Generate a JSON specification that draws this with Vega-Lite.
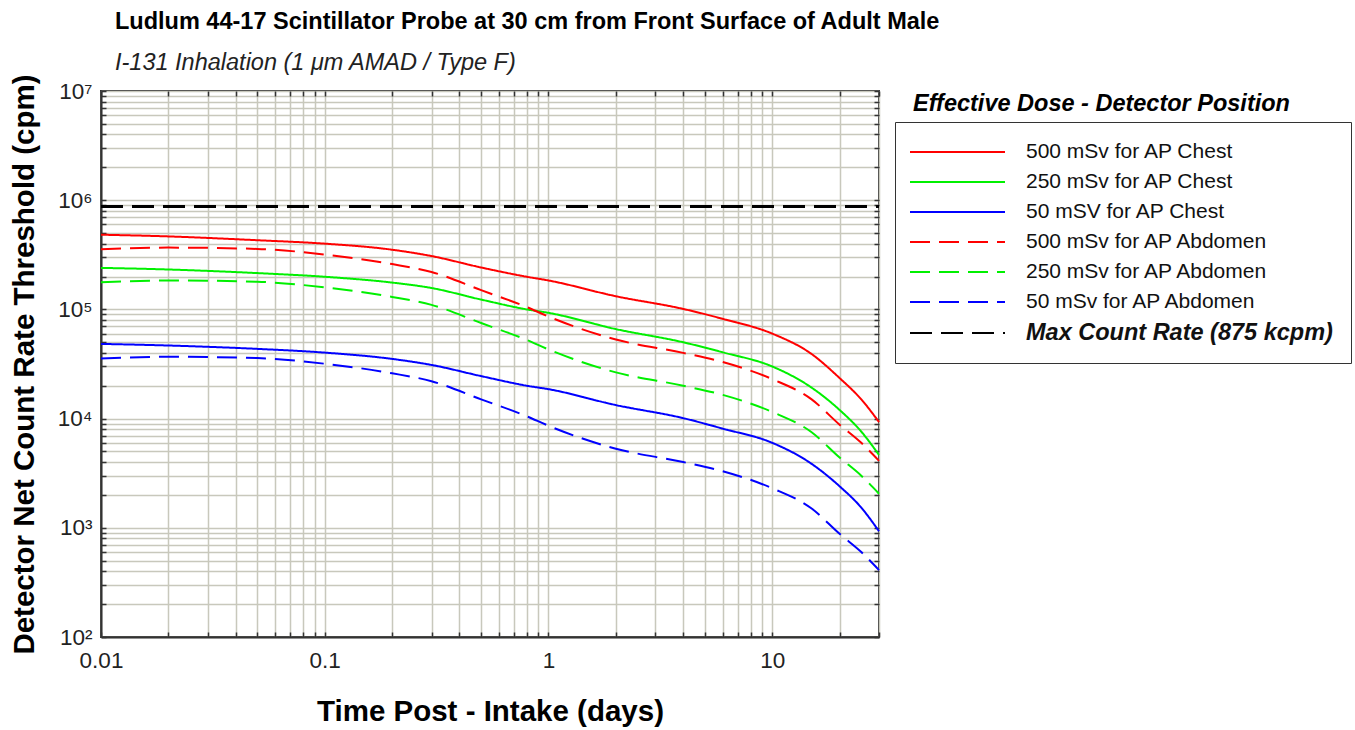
{
  "$schema": "https://vega.github.io/schema/vega-lite/v6.json",
  "width": 778,
  "height": 546,
  "autosize": {"type": "none"},
  "padding": {"left": 101, "top": 91, "right": 476, "bottom": 93},
  "background": "white",
  "view": {"stroke": "#333333", "strokeWidth": 2},
  "title": {
    "text": "Ludlum 44-17 Scintillator Probe at 30 cm from Front Surface of Adult Male",
    "subtitle": "I-131 Inhalation (1 μm AMAD / Type F)",
    "anchor": "start",
    "frame": "group",
    "dx": 14,
    "offset": -1,
    "font": "Liberation Sans",
    "fontSize": 23.5,
    "fontWeight": "bold",
    "color": "black",
    "subtitleFont": "Liberation Sans",
    "subtitleFontSize": 23.5,
    "subtitleFontStyle": "italic",
    "subtitleColor": "#222222",
    "subtitlePadding": 18
  },
  "datasets": {
    "curves": [
      {"t": 0.01, "v": 483000, "s": "500 mSv for AP Chest"},
      {"t": 0.02, "v": 466000, "s": "500 mSv for AP Chest"},
      {"t": 0.05, "v": 430000, "s": "500 mSv for AP Chest"},
      {"t": 0.1, "v": 400000, "s": "500 mSv for AP Chest"},
      {"t": 0.2, "v": 352000, "s": "500 mSv for AP Chest"},
      {"t": 0.3, "v": 308000, "s": "500 mSv for AP Chest"},
      {"t": 0.5, "v": 242000, "s": "500 mSv for AP Chest"},
      {"t": 0.8, "v": 199000, "s": "500 mSv for AP Chest"},
      {"t": 1, "v": 184000, "s": "500 mSv for AP Chest"},
      {"t": 2, "v": 132000, "s": "500 mSv for AP Chest"},
      {"t": 4, "v": 101000, "s": "500 mSv for AP Chest"},
      {"t": 6, "v": 82000, "s": "500 mSv for AP Chest"},
      {"t": 10, "v": 60000, "s": "500 mSv for AP Chest"},
      {"t": 15, "v": 39000, "s": "500 mSv for AP Chest"},
      {"t": 20, "v": 23500, "s": "500 mSv for AP Chest"},
      {"t": 25, "v": 15000, "s": "500 mSv for AP Chest"},
      {"t": 30, "v": 9300, "s": "500 mSv for AP Chest"},

      {"t": 0.01, "v": 240000, "s": "250 mSv for AP Chest"},
      {"t": 0.02, "v": 232000, "s": "250 mSv for AP Chest"},
      {"t": 0.05, "v": 215000, "s": "250 mSv for AP Chest"},
      {"t": 0.1, "v": 199000, "s": "250 mSv for AP Chest"},
      {"t": 0.2, "v": 176000, "s": "250 mSv for AP Chest"},
      {"t": 0.3, "v": 157000, "s": "250 mSv for AP Chest"},
      {"t": 0.5, "v": 123000, "s": "250 mSv for AP Chest"},
      {"t": 0.8, "v": 100000, "s": "250 mSv for AP Chest"},
      {"t": 1, "v": 93000, "s": "250 mSv for AP Chest"},
      {"t": 2, "v": 66000, "s": "250 mSv for AP Chest"},
      {"t": 4, "v": 50000, "s": "250 mSv for AP Chest"},
      {"t": 6, "v": 40500, "s": "250 mSv for AP Chest"},
      {"t": 10, "v": 30000, "s": "250 mSv for AP Chest"},
      {"t": 15, "v": 19200, "s": "250 mSv for AP Chest"},
      {"t": 20, "v": 12000, "s": "250 mSv for AP Chest"},
      {"t": 25, "v": 7600, "s": "250 mSv for AP Chest"},
      {"t": 30, "v": 4650, "s": "250 mSv for AP Chest"},

      {"t": 0.01, "v": 48300, "s": "50 mSV for AP Chest"},
      {"t": 0.02, "v": 46700, "s": "50 mSV for AP Chest"},
      {"t": 0.05, "v": 43500, "s": "50 mSV for AP Chest"},
      {"t": 0.1, "v": 40200, "s": "50 mSV for AP Chest"},
      {"t": 0.2, "v": 35200, "s": "50 mSV for AP Chest"},
      {"t": 0.3, "v": 31000, "s": "50 mSV for AP Chest"},
      {"t": 0.5, "v": 24500, "s": "50 mSV for AP Chest"},
      {"t": 0.8, "v": 20000, "s": "50 mSV for AP Chest"},
      {"t": 1, "v": 18600, "s": "50 mSV for AP Chest"},
      {"t": 2, "v": 13300, "s": "50 mSV for AP Chest"},
      {"t": 4, "v": 10100, "s": "50 mSV for AP Chest"},
      {"t": 6, "v": 8100, "s": "50 mSV for AP Chest"},
      {"t": 10, "v": 6000, "s": "50 mSV for AP Chest"},
      {"t": 15, "v": 3850, "s": "50 mSV for AP Chest"},
      {"t": 20, "v": 2400, "s": "50 mSV for AP Chest"},
      {"t": 25, "v": 1530, "s": "50 mSV for AP Chest"},
      {"t": 30, "v": 930, "s": "50 mSV for AP Chest"},

      {"t": 0.01, "v": 355000, "s": "500 mSv for AP Abdomen"},
      {"t": 0.02, "v": 368000, "s": "500 mSv for AP Abdomen"},
      {"t": 0.05, "v": 358000, "s": "500 mSv for AP Abdomen"},
      {"t": 0.1, "v": 318000, "s": "500 mSv for AP Abdomen"},
      {"t": 0.2, "v": 260000, "s": "500 mSv for AP Abdomen"},
      {"t": 0.3, "v": 220000, "s": "500 mSv for AP Abdomen"},
      {"t": 0.5, "v": 150000, "s": "500 mSv for AP Abdomen"},
      {"t": 0.8, "v": 105000, "s": "500 mSv for AP Abdomen"},
      {"t": 1, "v": 86000, "s": "500 mSv for AP Abdomen"},
      {"t": 2, "v": 53000, "s": "500 mSv for AP Abdomen"},
      {"t": 4, "v": 40000, "s": "500 mSv for AP Abdomen"},
      {"t": 6, "v": 33000, "s": "500 mSv for AP Abdomen"},
      {"t": 10, "v": 23000, "s": "500 mSv for AP Abdomen"},
      {"t": 15, "v": 15000, "s": "500 mSv for AP Abdomen"},
      {"t": 20, "v": 8800, "s": "500 mSv for AP Abdomen"},
      {"t": 25, "v": 6000, "s": "500 mSv for AP Abdomen"},
      {"t": 30, "v": 4100, "s": "500 mSv for AP Abdomen"},

      {"t": 0.01, "v": 177000, "s": "250 mSv for AP Abdomen"},
      {"t": 0.02, "v": 184000, "s": "250 mSv for AP Abdomen"},
      {"t": 0.05, "v": 179000, "s": "250 mSv for AP Abdomen"},
      {"t": 0.1, "v": 159000, "s": "250 mSv for AP Abdomen"},
      {"t": 0.2, "v": 130000, "s": "250 mSv for AP Abdomen"},
      {"t": 0.3, "v": 110000, "s": "250 mSv for AP Abdomen"},
      {"t": 0.5, "v": 75000, "s": "250 mSv for AP Abdomen"},
      {"t": 0.8, "v": 52500, "s": "250 mSv for AP Abdomen"},
      {"t": 1, "v": 43000, "s": "250 mSv for AP Abdomen"},
      {"t": 2, "v": 26500, "s": "250 mSv for AP Abdomen"},
      {"t": 4, "v": 20000, "s": "250 mSv for AP Abdomen"},
      {"t": 6, "v": 16500, "s": "250 mSv for AP Abdomen"},
      {"t": 10, "v": 11500, "s": "250 mSv for AP Abdomen"},
      {"t": 15, "v": 7500, "s": "250 mSv for AP Abdomen"},
      {"t": 20, "v": 4400, "s": "250 mSv for AP Abdomen"},
      {"t": 25, "v": 3000, "s": "250 mSv for AP Abdomen"},
      {"t": 30, "v": 2050, "s": "250 mSv for AP Abdomen"},

      {"t": 0.01, "v": 35500, "s": "50 mSv for AP Abdomen"},
      {"t": 0.02, "v": 36800, "s": "50 mSv for AP Abdomen"},
      {"t": 0.05, "v": 35800, "s": "50 mSv for AP Abdomen"},
      {"t": 0.1, "v": 31800, "s": "50 mSv for AP Abdomen"},
      {"t": 0.2, "v": 26000, "s": "50 mSv for AP Abdomen"},
      {"t": 0.3, "v": 22000, "s": "50 mSv for AP Abdomen"},
      {"t": 0.5, "v": 15000, "s": "50 mSv for AP Abdomen"},
      {"t": 0.8, "v": 10500, "s": "50 mSv for AP Abdomen"},
      {"t": 1, "v": 8600, "s": "50 mSv for AP Abdomen"},
      {"t": 2, "v": 5300, "s": "50 mSv for AP Abdomen"},
      {"t": 4, "v": 4000, "s": "50 mSv for AP Abdomen"},
      {"t": 6, "v": 3300, "s": "50 mSv for AP Abdomen"},
      {"t": 10, "v": 2300, "s": "50 mSv for AP Abdomen"},
      {"t": 15, "v": 1500, "s": "50 mSv for AP Abdomen"},
      {"t": 20, "v": 880, "s": "50 mSv for AP Abdomen"},
      {"t": 25, "v": 600, "s": "50 mSv for AP Abdomen"},
      {"t": 30, "v": 410, "s": "50 mSv for AP Abdomen"}
    ],
    "maxrate": [
      {"t": 0.01, "v": 875000, "s": "Max Count Rate (875 kcpm)"},
      {"t": 30, "v": 875000, "s": "Max Count Rate (875 kcpm)"}
    ]
  },
  "encoding": {
    "color": {
      "field": "s",
      "type": "nominal",
      "scale": {
        "domain": ["500 mSv for AP Chest", "250 mSv for AP Chest", "50 mSV for AP Chest", "500 mSv for AP Abdomen", "250 mSv for AP Abdomen", "50 mSv for AP Abdomen", "Max Count Rate (875 kcpm)"],
        "range": ["#ff0000", "#00f000", "#0000ff", "#ff0000", "#00f000", "#0000ff", "#000000"]
      },
      "legend": {
        "orient": "none",
        "legendX": 794,
        "legendY": 31,
        "title": "Effective Dose - Detector Position",
        "titleFont": "Liberation Sans",
        "titleFontSize": 23.5,
        "titleFontWeight": "bold",
        "titleFontStyle": "italic",
        "titleColor": "black",
        "titlePadding": -22,
        "titleLimit": 500,
        "labelFont": "Liberation Sans",
        "labelFontSize": 21,
        "labelColor": "#111111",
        "labelLimit": 400,
        "labelOffset": 58,
        "symbolType": "M-5,0H5",
        "symbolSize": 361,
        "symbolOffset": 18,
        "symbolStrokeWidth": 2,
        "rowPadding": 8,
        "padding": 18,
        "strokeColor": "#333333",
        "encode": {
          "title": {"update": {"dy": {"value": -48}, "dx": {"value": -16}}},
          "labels": {"update": {
            "fontWeight": {"signal": "datum.value == 'Max Count Rate (875 kcpm)' ? 'bold' : 'normal'"},
            "fontStyle": {"signal": "datum.value == 'Max Count Rate (875 kcpm)' ? 'italic' : 'normal'"},
            "fontSize": {"signal": "datum.value == 'Max Count Rate (875 kcpm)' ? 23.5 : 21"}
          }}
        }
      }
    },
    "strokeDash": {
      "field": "s",
      "type": "nominal",
      "scale": {
        "domain": ["500 mSv for AP Chest", "250 mSv for AP Chest", "50 mSV for AP Chest", "500 mSv for AP Abdomen", "250 mSv for AP Abdomen", "50 mSv for AP Abdomen", "Max Count Rate (875 kcpm)"],
        "range": [[1, 0], [1, 0], [1, 0], [20, 9], [20, 9], [20, 9], [22, 9]]
      }
    }
  },
  "layer": [
    {
      "data": {"name": "curves"},
      "mark": {"type": "line", "interpolate": "monotone", "strokeWidth": 2},
      "encoding": {
        "x": {
          "field": "t",
          "type": "quantitative",
          "scale": {"type": "log", "domain": [0.01, 30], "nice": false},
          "axis": {
            "title": "Time Post - Intake (days)",
            "titleFont": "Liberation Sans",
            "titleFontSize": 29.5,
            "titleFontWeight": "bold",
            "titleColor": "black",
            "titlePadding": 26,
            "values": [0.01, 0.02, 0.03, 0.04, 0.05, 0.06, 0.07, 0.08, 0.09, 0.1, 0.2, 0.3, 0.4, 0.5, 0.6, 0.7, 0.8, 0.9, 1, 2, 3, 4, 5, 6, 7, 8, 9, 10, 20, 30],
            "labelExpr": "datum.value == 0.01 ? '0.01' : datum.value == 0.1 ? '0.1' : datum.value == 1 ? '1' : datum.value == 10 ? '10' : ''",
            "labelFont": "Liberation Sans",
            "labelFontSize": 22.5,
            "labelColor": "#222222",
            "labelPadding": 17,
            "labelFlush": false,
            "labelOverlap": false,
            "grid": true,
            "gridColor": "#c8c8bc",
            "gridWidth": 1.5,
            "ticks": true,
            "tickSize": -5,
            "tickWidth": 1.5,
            "tickColor": "#333333",
            "domainColor": "#333333",
            "domainWidth": 2
          }
        },
        "y": {
          "field": "v",
          "type": "quantitative",
          "scale": {"type": "log", "domain": [100, 10000000], "nice": false},
          "axis": {
            "title": "Detector Net Count Rate Threshold (cpm)",
            "titleFont": "Liberation Sans",
            "titleFontSize": 29.5,
            "titleFontWeight": "bold",
            "titleColor": "black",
            "titlePadding": 18,
            "values": [100, 200, 300, 400, 500, 600, 700, 800, 900, 1000, 2000, 3000, 4000, 5000, 6000, 7000, 8000, 9000, 10000, 20000, 30000, 40000, 50000, 60000, 70000, 80000, 90000, 100000, 200000, 300000, 400000, 500000, 600000, 700000, 800000, 900000, 1000000, 2000000, 3000000, 4000000, 5000000, 6000000, 7000000, 8000000, 9000000, 10000000],
            "labelExpr": "datum.value == 100 ? '10²' : datum.value == 1000 ? '10³' : datum.value == 10000 ? '10⁴' : datum.value == 100000 ? '10⁵' : datum.value == 1000000 ? '10⁶' : datum.value == 10000000 ? '10⁷' : ''",
            "labelFont": "Liberation Sans",
            "labelFontSize": 22.5,
            "labelColor": "#222222",
            "labelPadding": 14,
            "labelFlush": false,
            "labelOverlap": false,
            "grid": true,
            "gridColor": "#c8c8bc",
            "gridWidth": 1.5,
            "ticks": true,
            "tickSize": -5,
            "tickWidth": 1.5,
            "tickColor": "#333333",
            "domainColor": "#333333",
            "domainWidth": 2
          }
        }
      }
    },
    {
      "data": {"name": "maxrate"},
      "mark": {"type": "line", "strokeWidth": 3},
      "encoding": {
        "x": {
          "field": "t",
          "type": "quantitative",
          "scale": {"type": "log", "domain": [0.01, 30], "nice": false},
          "axis": {
            "orient": "top",
            "title": null,
            "labels": false,
            "grid": false,
            "domain": false,
            "values": [0.01, 0.02, 0.03, 0.04, 0.05, 0.06, 0.07, 0.08, 0.09, 0.1, 0.2, 0.3, 0.4, 0.5, 0.6, 0.7, 0.8, 0.9, 1, 2, 3, 4, 5, 6, 7, 8, 9, 10, 20, 30],
            "ticks": true,
            "tickSize": -5,
            "tickWidth": 1.5,
            "tickColor": "#333333"
          }
        },
        "y": {
          "field": "v",
          "type": "quantitative",
          "scale": {"type": "log", "domain": [100, 10000000], "nice": false},
          "axis": {
            "orient": "right",
            "title": null,
            "labels": false,
            "grid": false,
            "domain": false,
            "values": [100, 200, 300, 400, 500, 600, 700, 800, 900, 1000, 2000, 3000, 4000, 5000, 6000, 7000, 8000, 9000, 10000, 20000, 30000, 40000, 50000, 60000, 70000, 80000, 90000, 100000, 200000, 300000, 400000, 500000, 600000, 700000, 800000, 900000, 1000000, 2000000, 3000000, 4000000, 5000000, 6000000, 7000000, 8000000, 9000000, 10000000],
            "ticks": true,
            "tickSize": -5,
            "tickWidth": 1.5,
            "tickColor": "#333333"
          }
        }
      }
    }
  ],
  "resolve": {"axis": {"x": "independent", "y": "independent"}}
}
